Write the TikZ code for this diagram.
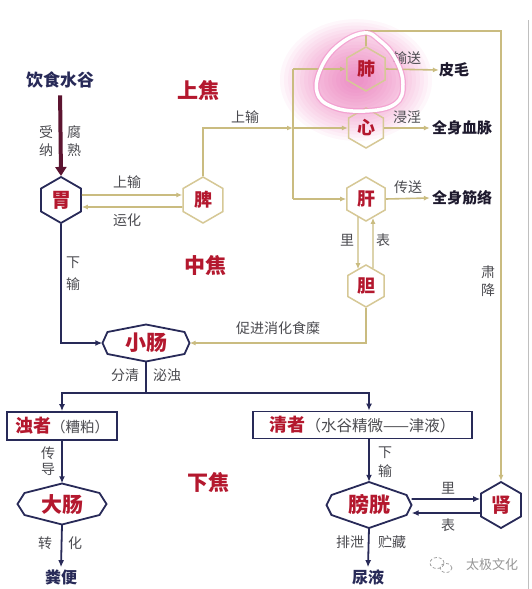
\documentclass[tikz,border=0pt]{standalone}
\usepackage{fontspec}
\setmainfont{Noto Sans CJK SC}
\usetikzlibrary{shapes.geometric,arrows.meta,calc}
\definecolor{navy}{RGB}{40,42,88}
\definecolor{maroon}{RGB}{92,20,48}
\definecolor{hred}{RGB}{180,24,46}
\definecolor{khaki}{RGB}{202,188,128}
\definecolor{khakihex}{RGB}{214,200,150}
\definecolor{lblc}{RGB}{75,75,80}
\definecolor{ink}{RGB}{30,26,46}
\definecolor{glowc}{RGB}{232,70,165}
\definecolor{wm}{RGB}{150,150,150}
\newcommand\widehex[8]{%
  \node[widen, minimum width=2*#4, minimum height=2*#5] (#1) at (#2,#3) {#8};
  \draw[hexline] (#2-#4,#3) -- (#2-#4+#6,#3-#7) -- (#2,#3-#5) -- (#2+#4-#6,#3-#7)
    -- (#2+#4,#3) -- (#2+#4-#6,#3+#7) -- (#2,#3+#5) -- (#2-#4+#6,#3+#7) -- cycle;}
\begin{document}
\begin{tikzpicture}[x=1pt,y=-1pt,
  hexn/.style={regular polygon, regular polygon sides=6, regular polygon rotate=30,
    minimum size=46pt, inner sep=0pt, line width=1.8pt, text=hred,
    font=\fontsize{20}{20}\selectfont\bfseries},
  navyhex/.style={hexn, draw=navy},
  khex/.style={hexn, draw=khakihex, minimum size=44pt, line width=1.5pt,
    font=\fontsize{18}{18}\selectfont\bfseries},
  widen/.style={inner sep=0pt, text=hred, font=\fontsize{21}{21}\selectfont\bfseries},
  hexline/.style={draw=navy, line width=1.8pt, line join=miter},
  nline/.style={draw=navy, line width=1.8pt},
  narrow/.style={nline, -{Latex[length=7pt,width=6pt]}},
  kline/.style={draw=khaki, line width=1.6pt},
  karrow/.style={kline, -{Latex[length=6pt,width=5pt]}},
  lbl/.style={text=lblc, inner sep=0pt, font=\fontsize{14}{19}\selectfont, align=center},
  zone/.style={text=hred, inner sep=0pt, font=\fontsize{21}{21}\selectfont\bfseries},
  outt/.style={text=ink, inner sep=0pt, font=\fontsize{15}{15}\selectfont\bfseries},
  navyt/.style={text=navy, inner sep=0pt, font=\fontsize{17}{17}\selectfont\bfseries},
  boxn/.style={draw=navy, line width=1.8pt, inner sep=0pt, minimum height=27pt}
]
\fill[white] (0,0) rectangle (531,589);
\useasboundingbox (0,0) rectangle (531,589);
% glow
\foreach \r in {76,72,...,8} \fill[glowc, opacity=0.045] (356,80) ellipse ({\r pt} and {0.8*\r pt});
% right border line
\draw[black!25, line width=0.8pt] (528,20) -- (528,589);

% nodes
\node[navyt] (food) at (60,80) {饮食水谷};
\node[navyhex] (wei) at (61,200) {胃};
\node[khex, minimum size=46pt] (pi) at (203,200) {脾};
\node[khex] (fei) at (366,69) {肺};
\node[khex, minimum size=40pt] (xin) at (366,128) {心};
\node[khex] (gan) at (366,199) {肝};
\node[khex, minimum size=42pt] (dan) at (366,286) {胆};
\node[navyhex] (shen) at (501,505) {肾};
\widehex{xc}{146}{343}{43.5}{18.5}{5}{11}{小肠}
\widehex{dc}{62}{504}{44.5}{20.5}{7}{11}{大肠}
\widehex{pang}{369}{505}{42.5}{23}{5}{10}{膀胱}
\node[boxn, minimum width=110pt, minimum height=28pt] (zhuo) at (62,426)
  {{\color{hred}\fontsize{18}{18}\selectfont\bfseries 浊者}{\color{lblc}\fontsize{14.5}{14.5}\selectfont （糟粕）}};
\node[boxn, minimum width=219pt] (qing) at (362.5,425)
  {{\color{hred}\fontsize{18}{18}\selectfont\bfseries 清者}{\color{lblc}\fontsize{15.5}{15.5}\selectfont （水谷精微——津液）}};

\node[outt] (pimao) at (454,70) {皮毛};
\node[outt] (xuemai) at (462,128) {全身血脉};
\node[outt] (jinluo) at (462,198) {全身筋络};
\node[navyt, font=\fontsize{16}{16}\selectfont\bfseries] (fenbian) at (61,577) {粪便};
\node[navyt, font=\fontsize{16}{16}\selectfont\bfseries] (niaoye) at (368,577) {尿液};

% zones
\node[zone] (z1) at (198,90) {上焦};
\node[zone] (z2) at (205,265) {中焦};
\node[zone] (z3) at (208,482) {下焦};

% connectors
\draw[draw=maroon, line width=4pt, shorten <=7pt, -{Triangle[length=9pt,width=11pt]}] (food.south) -- (wei.north);
\draw[karrow] ([yshift=5pt]wei.east) -- ([yshift=5pt]pi.west);
\draw[karrow] ([yshift=-7pt]pi.west) -- ([yshift=-7pt]wei.east);
\coordinate (b1) at (293,69);
\coordinate (b2) at (293,128);
\coordinate (b3) at (293,199);
\draw[karrow] (pi.north) |- (b2);
\draw[kline] (b1) -- (b3);
\draw[karrow] (b1) -- (fei.west);
\draw[karrow] (b2) -- (xin.west);
\draw[karrow] (b3) -- (gan.west);
\draw[karrow] (fei.east) -- (pimao.west);
\draw[karrow] (xin.east) -- ([xshift=-2pt]xuemai.west);
\draw[karrow] (gan.east) -- ([xshift=-2pt]jinluo.west);
\draw[karrow, line width=1.4pt] ($(gan.south)+(-8,-5)$) -- ($(dan.north)+(-8,5)$);
\draw[karrow, line width=1.4pt] ($(dan.north)+(7,4)$) -- ($(gan.south)+(7,-4)$);
\draw[karrow] (dan.south) |- (xc.east);
\draw[karrow] (fei.north) -- ++(0,-15) -| (shen.north);

\draw[narrow] (wei.south) |- (xc.west);
\coordinate (sp) at (146,393);
\draw[nline] (xc.south) -- (sp);
\draw[narrow] (sp) -| (zhuo.north);
\draw[narrow] (sp) -| (pang.north |- qing.north);
\draw[narrow] (zhuo.south) -- (dc.north);
\draw[narrow] (dc.south) -- ([yshift=2pt]fenbian.north);
\draw[narrow] (pang.north |- qing.south) -- (pang.north);
\draw[narrow] ([yshift=6pt]pang.east) -- ([yshift=6pt]shen.west);
\draw[narrow] ([yshift=-8pt]shen.west) -- ([yshift=-8pt]pang.east);
\draw[narrow] (pang.south) -- ([yshift=2pt]niaoye.north);

% labels
\node[lbl, font=\fontsize{14}{18}\selectfont] (l1) at (46,141) {受\\纳};
\node[lbl, font=\fontsize{14}{18}\selectfont] (l2) at (74,141) {腐\\熟};
\node[lbl] (l3) at (127,182) {上输};
\node[lbl] (l4) at (127,220) {运化};
\node[lbl] (l5) at (245,117) {上输};
\node[lbl, font=\fontsize{14}{22}\selectfont] (l6) at (73,274) {下\\输};
\node[lbl] (l7) at (407,58) {输送};
\node[lbl] (l8) at (407,117) {浸淫};
\node[lbl] (l9) at (408,187) {传送};
\node[lbl] (l10) at (347,240) {里};
\node[lbl] (l11) at (383,240) {表};
\node[lbl] (l12) at (278,328) {促进消化食糜};
\node[lbl, font=\fontsize{14}{18}\selectfont] (l13) at (488,281) {肃\\降};
\node[lbl] (l14) at (125,375) {分清};
\node[lbl] (l15) at (167,375) {泌浊};
\node[lbl, font=\fontsize{14}{16}\selectfont] (l16) at (48,461) {传\\导};
\node[lbl] (l17) at (45,543) {转};
\node[lbl] (l18) at (75,543) {化};
\node[lbl] (l19) at (385,462) {下\\输};
\node[lbl] (l20) at (448,488) {里};
\node[lbl] (l21) at (448,525) {表};
\node[lbl] (l22) at (350,542) {排泄};
\node[lbl] (l23) at (392,542) {贮藏};

% watermark
\draw[wm, line width=0.7pt, densely dashed] (437,563) ellipse (7pt and 5.5pt);
\draw[wm, line width=0.7pt, densely dashed] (446,568) ellipse (6pt and 4.5pt);
\node[text=wm, inner sep=0pt, font=\fontsize{13}{13}\selectfont] (wmt) at (492,565) {太极文化};

% highlight loop
\draw[glowc!60, line width=6pt, opacity=0.6] plot[smooth cycle, tension=0.7] coordinates
  {(364,33) (340,44) (322,66) (317,92) (333,107) (365,111) (395,104) (403,84) (395,58) (379,40)};
\draw[white, line width=3.5pt] plot[smooth cycle, tension=0.7] coordinates
  {(364,33) (340,44) (322,66) (317,92) (333,107) (365,111) (395,104) (403,84) (395,58) (379,40)};
\end{tikzpicture}
\end{document}
